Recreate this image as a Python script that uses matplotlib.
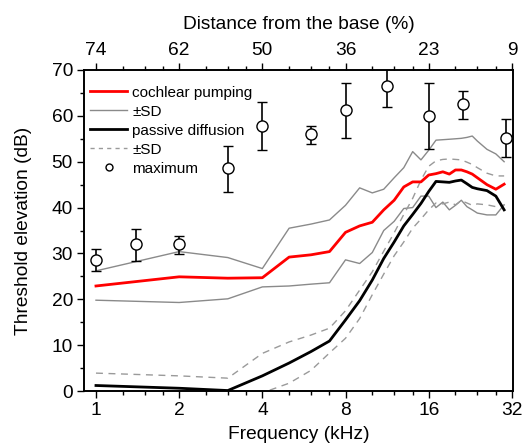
import matplotlib
matplotlib.use("Agg")
import matplotlib.pyplot as plt
from matplotlib.lines import Line2D
from matplotlib.ticker import FixedLocator, NullFormatter

plt.rcParams['font.family'] = ['Liberation Sans', 'DejaVu Sans']

# ---- data ----
freq = [1, 2, 3, 4, 5, 6, 7, 8, 9, 10, 11, 12, 13, 14, 15, 16, 17, 18, 19, 20,
        21, 22, 23, 24, 26, 28, 30]

pump_mean = [22.9, 24.9, 24.6, 24.7, 29.2, 29.7, 30.4, 34.6, 36.0, 36.8, 39.5, 41.6,
             44.5, 45.6, 45.6, 47.1, 47.4, 47.8, 47.3, 48.2, 48.2, 47.8, 47.3, 46.5,
             45.0, 44.0, 45.1]
pump_sd_hi = [26.2, 30.4, 29.1, 26.7, 35.5, 36.4, 37.3, 40.5, 44.3, 43.2, 44.0, 46.5,
              48.7, 52.2, 50.4, 52.5, 54.7, 54.8, 54.9, 55.0, 55.1, 55.3, 55.6, 54.5,
              52.7, 51.7, 50.0]
pump_sd_lo = [19.8, 19.3, 20.1, 22.7, 22.9, 23.3, 23.6, 28.6, 27.8, 30.2, 35.0, 37.0,
              39.8, 40.0, 42.5, 42.5, 40.0, 41.2, 39.5, 40.5, 41.6, 40.2, 39.5, 38.8,
              38.4, 38.4, 40.6]

diff_mean = [1.2, 0.6, 0.1, 3.3, 6.1, 8.6, 10.9, 15.5, 19.7, 24.2, 28.9, 32.5,
             36.0, 38.5, 40.9, 43.5, 45.7, 45.6, 45.5, 45.8, 46.0, 45.2, 44.4, 44.1,
             43.7, 42.5, 39.5]
diff_sd_hi = [3.9, 3.3, 2.8, 8.2, 10.7, 12.2, 13.7, 17.5, 22.0, 26.0, 30.5, 34.5,
              38.5, 42.0, 46.0, 49.0, 50.2, 50.5, 50.6, 50.5, 50.4, 49.9, 49.4, 48.7,
              47.5, 46.9, 46.9]
diff_sd_lo = [-2.0, -2.0, -2.0, -0.4, 1.7, 4.5, 8.3, 11.5, 15.8, 21.0, 25.5, 29.5,
              32.5, 35.5, 37.5, 39.5, 41.0, 40.8, 41.2, 40.6, 41.5, 41.0, 40.5, 40.8,
              40.6, 40.2, 40.5]

max_freq = [1, 1.4, 2, 3, 4, 6, 8, 11.3, 16, 21.3, 30.5]
max_val = [28.6, 32.0, 32.0, 48.6, 57.8, 56.0, 61.3, 66.6, 60.0, 62.6, 55.2]
max_err_hi = [2.3, 3.3, 1.9, 4.9, 5.3, 1.8, 5.9, 4.5, 7.1, 2.9, 4.1]
max_err_lo = [2.4, 3.6, 2.1, 5.1, 5.2, 2.1, 6.2, 4.6, 7.3, 3.2, 4.1]

bottom_ticks = [1, 2, 4, 8, 16, 32]
bottom_labels = ['1', '2', '4', '8', '16', '32']
top_labels = ['74', '62', '50', '36', '23', '9']
minor_ticks = [1.25, 1.5, 1.75, 2.5, 3, 3.5, 5, 6, 7, 10, 12, 14, 20, 24, 28]

# ---- figure ----
fig = plt.figure(figsize=(5.24, 4.43), dpi=100)
ax = fig.add_axes([84/524, 1-391/443, (513-84)/524, (391-70)/443])

gray = '#8a8a8a'
dgray = '#9a9a9a'
fs = 13.8

ax.plot(freq, pump_sd_hi, color=gray, lw=1.0, zorder=2)
ax.plot(freq, pump_sd_lo, color=gray, lw=1.0, zorder=2)
ax.plot(freq, diff_sd_hi, color=dgray, lw=1.0, ls=(0, (5, 4)), zorder=2)
ax.plot(freq, diff_sd_lo, color=dgray, lw=1.0, ls=(0, (5, 4)), zorder=2)
ax.plot(freq, pump_mean, color='#ff0000', lw=2.0, zorder=3)
ax.plot(freq, diff_mean, color='black', lw=2.0, zorder=3)

ax.errorbar(max_freq, max_val, yerr=[max_err_lo, max_err_hi], fmt='o',
            mfc='white', mec='black', mew=1.0, ms=8, ecolor='black',
            elinewidth=1.2, capsize=3.5, capthick=1.2, zorder=5)

ax.set_xscale('log', base=2)
ax.set_xlim(0.905, 32.3)
ax.set_ylim(0, 70)
ax.xaxis.set_major_locator(FixedLocator(bottom_ticks))
ax.set_xticklabels(bottom_labels)
ax.xaxis.set_minor_locator(FixedLocator(minor_ticks))
ax.xaxis.set_minor_formatter(NullFormatter())
ax.set_yticks(range(0, 71, 10))
ax.set_yticks(range(5, 70, 10), minor=True)

ax.tick_params(which='major', direction='out', length=5, width=1, labelsize=fs,
               top=False, right=False, pad=3)
ax.tick_params(which='minor', direction='out', length=3, width=1,
               top=False, right=False)
for s in ax.spines.values():
    s.set_linewidth(1.2)

ax.set_xlabel('Frequency (kHz)', fontsize=fs, labelpad=5)
ax.set_ylabel('Threshold elevation (dB)', fontsize=fs, labelpad=14)

ax2 = ax.twiny()
ax2.set_xscale('log', base=2)
ax2.set_xlim(ax.get_xlim())
ax2.xaxis.set_major_locator(FixedLocator(bottom_ticks))
ax2.set_xticklabels(top_labels)
ax2.xaxis.set_minor_locator(FixedLocator(minor_ticks))
ax2.xaxis.set_minor_formatter(NullFormatter())
ax2.tick_params(which='major', direction='out', length=5, width=1, labelsize=fs, pad=3)
ax2.tick_params(which='minor', direction='out', length=3, width=1)
ax2.set_xlabel('Distance from the base (%)', fontsize=fs, labelpad=9)
for s in ax2.spines.values():
    s.set_linewidth(1.2)

handles = [
    Line2D([], [], color='#ff0000', lw=2.0),
    Line2D([], [], color=gray, lw=1.0),
    Line2D([], [], color='black', lw=2.0),
    Line2D([], [], color=dgray, lw=1.0, ls=(0, (3, 3))),
    Line2D([], [], ls='none', marker='o', mfc='white', mec='black', ms=5, mew=1.0),
]
labels = ['cochlear pumping', '\u00b1SD', 'passive diffusion', '\u00b1SD', 'maximum']
ax.legend(handles, labels, loc='upper left', frameon=False, fontsize=11,
          handlelength=2.4, handletextpad=0.35, labelspacing=0.33,
          borderaxespad=0.3, bbox_to_anchor=(-0.01, 0.985))

fig.savefig('out.png', dpi=100)
